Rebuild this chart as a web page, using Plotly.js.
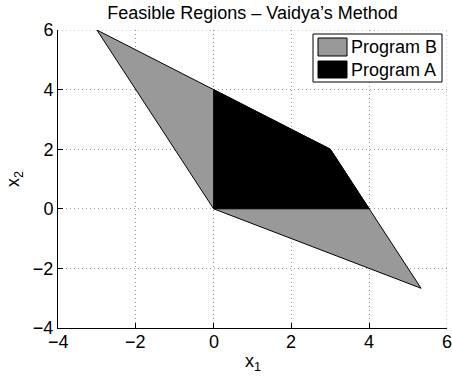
<!DOCTYPE html>
<html>
<head>
<meta charset="utf-8">
<script src="https://cdn.plot.ly/plotly-3.0.1.min.js"></script>
<style>html,body{margin:0;padding:0;background:#fff;}#chart{width:452px;height:378px;}</style>
</head>
<body>
<div id="chart"></div>
<script>
// Program B feasible region vertices
const programB_x = [-3, 3, 5.333, 0, -3];
const programB_y = [6, 2, -2.667, 0, 6];
// Program A feasible region vertices
const programA_x = [0, 0, 3, 4, 0];
const programA_y = [0, 4, 2, 0, 0];
const seriesNames = ['Program B', 'Program A'];
const seriesColors = ['#999999', '#000000'];
const xTicks = [-4, -2, 0, 2, 4, 6];
const yTicks = [-4, -2, 0, 2, 4, 6];
const xRange = [-4, 6];
const yRange = [-4, 6];

const FAM = 'Liberation Sans, Arial, Helvetica, sans-serif';
const font = {family: FAM, size: 18, color: '#000'};
const GRID = '#9a9a9a';
const DOT = '1px,3px';

const traces = [
  {x: programB_x, y: programB_y, type: 'scatter', mode: 'lines', fill: 'toself',
   fillcolor: seriesColors[0], line: {color: '#000', width: 1}, name: seriesNames[0]},
  {x: programA_x, y: programA_y, type: 'scatter', mode: 'lines', fill: 'toself',
   fillcolor: seriesColors[1], line: {color: '#000', width: 1}, name: seriesNames[1]}
];

const fmt = v => v < 0 ? '\u2212' + Math.abs(v) : String(v);

const axisCommon = {
  showline: true, linecolor: '#000', linewidth: 1, mirror: false,
  ticks: 'inside', ticklen: 5, tickcolor: '#000',
  showgrid: true, gridcolor: GRID, griddash: DOT, gridwidth: 1,
  zeroline: false, tickfont: font, layer: 'above traces', automargin: false
};

// manual MATLAB-style legend (paper coords)
const px = X => (X - 58) / 389;
const py = Y => (328 - Y) / 298;
const shapes = [
  // dotted grid lines at the open top/right edges (box off)
  {type: 'line', xref: 'x', yref: 'y', x0: xRange[1], x1: xRange[1], y0: yRange[0], y1: yRange[1],
   line: {color: GRID, width: 1, dash: DOT}, layer: 'below'},
  {type: 'line', xref: 'x', yref: 'y', x0: xRange[0], x1: xRange[1], y0: yRange[1], y1: yRange[1],
   line: {color: GRID, width: 1, dash: DOT}, layer: 'below'},
  {type: 'rect', xref: 'paper', yref: 'paper', x0: px(313), x1: px(442), y0: py(82), y1: py(34),
   fillcolor: '#fff', line: {color: '#000', width: 1}},
  {type: 'rect', xref: 'paper', yref: 'paper', x0: px(318), x1: px(347), y0: py(56), y1: py(38),
   fillcolor: seriesColors[0], line: {color: '#000', width: 1}},
  {type: 'rect', xref: 'paper', yref: 'paper', x0: px(318), x1: px(347), y0: py(78), y1: py(61),
   fillcolor: seriesColors[1], line: {color: '#000', width: 1}}
];
const annotations = [
  {xref: 'paper', yref: 'paper', x: px(349), y: py(47), text: seriesNames[0], showarrow: false,
   xanchor: 'left', yanchor: 'middle', font: font},
  {xref: 'paper', yref: 'paper', x: px(349), y: py(69.5), text: seriesNames[1], showarrow: false,
   xanchor: 'left', yanchor: 'middle', font: font},
  {xref: 'paper', yref: 'paper', x: 0.5, y: py(362), text: 'x<sub>1</sub>', showarrow: false,
   xanchor: 'center', yanchor: 'middle', font: font}
].concat(xTicks.map(v => ({
  // x tick labels placed on the x axis scale
  xref: 'x', yref: 'paper', x: v, y: py(342), text: fmt(v), showarrow: false,
  xanchor: 'center', yanchor: 'middle', font: font
})));

const layout = {
  width: 452, height: 378,
  margin: {l: 58, r: 5, t: 30, b: 50},
  paper_bgcolor: '#fff', plot_bgcolor: '#fff',
  font: font,
  title: {text: 'Feasible Regions \u2013 Vaidya\u2019s Method', font: font, x: 0.5, xref: 'paper',
          yref: 'container', y: 1 - 13 / 378, yanchor: 'middle'},
  xaxis: Object.assign({}, axisCommon, {range: xRange, tickvals: xTicks, showticklabels: false}),
  yaxis: Object.assign({}, axisCommon, {range: yRange, tickvals: yTicks, ticktext: yTicks.map(fmt),
    title: {text: 'x<sub>2</sub>', font: font, standoff: 8}}),
  showlegend: false,
  shapes: shapes,
  annotations: annotations
};

Plotly.newPlot('chart', traces, layout, {displayModeBar: false, staticPlot: true});
</script>
</body>
</html>
